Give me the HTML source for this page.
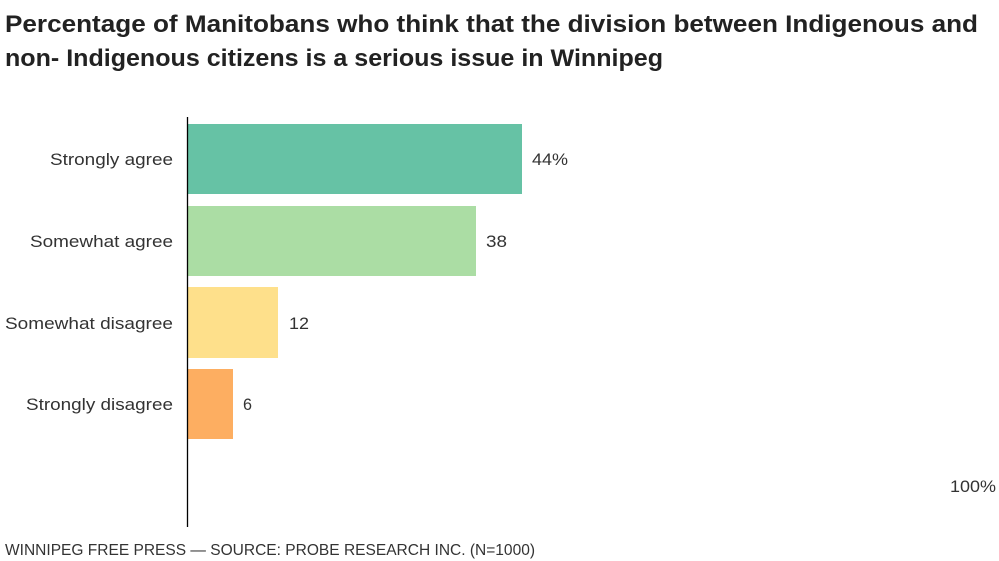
<!DOCTYPE html>
<html>
<head>
<meta charset="utf-8">
<style>
  html, body { margin: 0; padding: 0; background: #fff; }
  svg { display: block; }
  text { font-family: "Liberation Sans", "DejaVu Sans", sans-serif; fill: #333; }
  .title { font-weight: bold; font-size: 24.5px; fill: #222; }
  .cat { font-size: 16.5px; }
  .val { font-size: 16.5px; }
  .foot { font-size: 15.5px; }
</style>
</head>
<body>
<svg width="999" height="561" viewBox="0 0 999 561" xmlns="http://www.w3.org/2000/svg">
  <rect width="999" height="561" fill="#fff"/>
  <text class="title" x="5" y="32" textLength="973" lengthAdjust="spacingAndGlyphs">Percentage of Manitobans who think that the division between Indigenous and</text>
  <text class="title" x="5" y="66" textLength="658" lengthAdjust="spacingAndGlyphs">non- Indigenous citizens is a serious issue in Winnipeg</text>

  <rect x="188" y="124" width="334" height="70" fill="#66c2a5"/>
  <rect x="188" y="206" width="288" height="70" fill="#abdda4"/>
  <rect x="188" y="287" width="90" height="71" fill="#fee08b"/>
  <rect x="188" y="369" width="45" height="70" fill="#fdae61"/>

  <line x1="187.5" y1="117" x2="187.5" y2="527" stroke="#000" stroke-width="1.3"/>

  <text class="cat" x="173" y="165" text-anchor="end" textLength="123" lengthAdjust="spacingAndGlyphs">Strongly agree</text>
  <text class="cat" x="173" y="247" text-anchor="end" textLength="143" lengthAdjust="spacingAndGlyphs">Somewhat agree</text>
  <text class="cat" x="173" y="329" text-anchor="end" textLength="168" lengthAdjust="spacingAndGlyphs">Somewhat disagree</text>
  <text class="cat" x="173" y="410" text-anchor="end" textLength="147" lengthAdjust="spacingAndGlyphs">Strongly disagree</text>

  <text class="val" x="532" y="165" textLength="36" lengthAdjust="spacingAndGlyphs">44%</text>
  <text class="val" x="486" y="247" textLength="21" lengthAdjust="spacingAndGlyphs">38</text>
  <text class="val" x="289" y="329" textLength="20" lengthAdjust="spacingAndGlyphs">12</text>
  <text class="val" x="243" y="410" textLength="9" lengthAdjust="spacingAndGlyphs">6</text>
  <text class="val" x="950" y="492" textLength="46" lengthAdjust="spacingAndGlyphs">100%</text>

  <text class="foot" x="5" y="555" textLength="530" lengthAdjust="spacingAndGlyphs">WINNIPEG FREE PRESS — SOURCE: PROBE RESEARCH INC. (N=1000)</text>
</svg>
</body>
</html>
